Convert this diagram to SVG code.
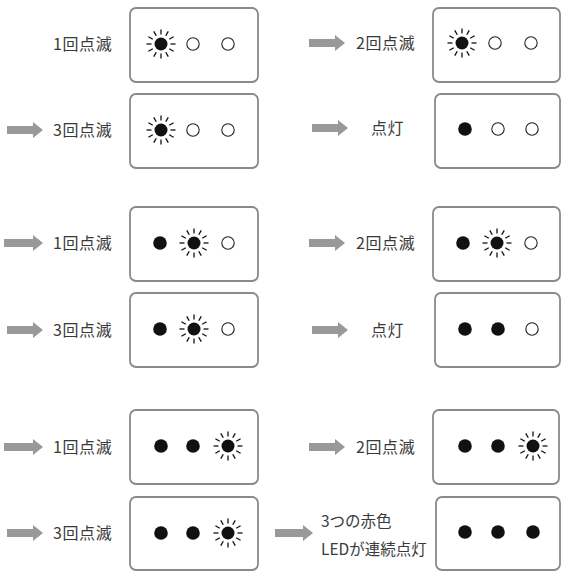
<svg xmlns="http://www.w3.org/2000/svg" xmlns:xlink="http://www.w3.org/1999/xlink" width="562" height="571" viewBox="0 0 562 571">
  <style>
    .box { fill: #fff; stroke: #8a8a8a; stroke-width: 1.8; }
    .lbl { font-family: "Noto Sans CJK JP", "Liberation Sans", sans-serif; font-size: 16px; fill: #3a3a3a; letter-spacing: 0.6px; }
    .lbl.tight { font-size: 15.5px; letter-spacing: 0; }
    .arrow { fill: #999; }
    .ring { fill: #fff; stroke: #222; stroke-width: 1.1; }
    .dot { fill: #111; }
    .ray { stroke: #111; stroke-width: 1.3; stroke-linecap: butt; }
  </style>
  <defs>
    <!-- blinking LED: filled dot with 12 short rays -->
    <g id="sun">
      <circle class="dot" r="6.5"/>
      <g class="ray">
        <line x1="9.5" y1="0" x2="14.5" y2="0"/>
        <line x1="-9.5" y1="0" x2="-14.5" y2="0"/>
        <line x1="0" y1="9.5" x2="0" y2="14.5"/>
        <line x1="0" y1="-9.5" x2="0" y2="-14.5"/>
        <line x1="8.2" y1="4.75" x2="12.6" y2="7.25"/>
        <line x1="-8.2" y1="4.75" x2="-12.6" y2="7.25"/>
        <line x1="8.2" y1="-4.75" x2="12.6" y2="-7.25"/>
        <line x1="-8.2" y1="-4.75" x2="-12.6" y2="-7.25"/>
        <line x1="4.75" y1="8.2" x2="7.25" y2="12.6"/>
        <line x1="-4.75" y1="8.2" x2="-7.25" y2="12.6"/>
        <line x1="4.75" y1="-8.2" x2="7.25" y2="-12.6"/>
        <line x1="-4.75" y1="-8.2" x2="-7.25" y2="-12.6"/>
      </g>
    </g>
    <!-- steady-on LED -->
    <circle id="on" class="dot" r="6.8"/>
    <!-- off LED -->
    <circle id="off" class="ring" r="6.2"/>
  </defs>

  <rect width="562" height="571" fill="#fff"/>

  <!-- arrows -->
  <g id="connectors" class="arrow">
    <path d="M309 39 H335 V35 L345 43 L335 51 V47 H309 Z"/>
    <path d="M7 126 H33 V122 L43 130 L33 138 V134 H7 Z"/>
    <path d="M312 124 H338 V120 L348 128 L338 136 V132 H312 Z"/>
    <path d="M4 239 H33 V235 L43 243 L33 251 V247 H4 Z"/>
    <path d="M309 239 H335 V235 L345 243 L335 251 V247 H309 Z"/>
    <path d="M7 326 H33 V322 L43 330 L33 338 V334 H7 Z"/>
    <path d="M312 326 H338 V322 L348 330 L338 338 V334 H312 Z"/>
    <path d="M4 443 H33 V439 L43 447 L33 455 V451 H4 Z"/>
    <path d="M309 443 H335 V439 L345 447 L335 455 V451 H309 Z"/>
    <path d="M7 529 H33 V525 L43 533 L33 541 V537 H7 Z"/>
    <path d="M275 529 H303 V525 L313 533 L303 541 V537 H275 Z"/>
  </g>

  <!-- row 1 -->
  <g id="r1-left">
    <text class="lbl" x="53" y="50">1回点滅</text>
    <rect class="box" x="130" y="8" width="128" height="74" rx="6"/>
    <use xlink:href="#sun" x="161" y="44"/>
    <use xlink:href="#off" x="193" y="44"/>
    <use xlink:href="#off" x="228" y="44"/>
  </g>
  <g id="r1-right">
    <text class="lbl" x="356" y="49">2回点滅</text>
    <rect class="box" x="433" y="8" width="127" height="74" rx="6"/>
    <use xlink:href="#sun" x="462" y="43"/>
    <use xlink:href="#off" x="495" y="43"/>
    <use xlink:href="#off" x="531" y="43"/>
  </g>

  <!-- row 2 -->
  <g id="r2-left">
    <text class="lbl" x="53" y="136">3回点滅</text>
    <rect class="box" x="130" y="94" width="128" height="74" rx="6"/>
    <use xlink:href="#sun" x="161" y="130"/>
    <use xlink:href="#off" x="193" y="130"/>
    <use xlink:href="#off" x="228" y="130"/>
  </g>
  <g id="r2-right">
    <text class="lbl" x="371" y="134">点灯</text>
    <rect class="box" x="435" y="94" width="125" height="74" rx="6"/>
    <use xlink:href="#on" x="465" y="129"/>
    <use xlink:href="#off" x="498" y="129"/>
    <use xlink:href="#off" x="532" y="129"/>
  </g>

  <!-- row 3 -->
  <g id="r3-left">
    <text class="lbl" x="53" y="249">1回点滅</text>
    <rect class="box" x="130" y="207" width="128" height="74" rx="6"/>
    <use xlink:href="#on" x="160" y="243"/>
    <use xlink:href="#sun" x="194" y="243"/>
    <use xlink:href="#off" x="228" y="243"/>
  </g>
  <g id="r3-right">
    <text class="lbl" x="356" y="249">2回点滅</text>
    <rect class="box" x="433" y="207" width="127" height="74" rx="6"/>
    <use xlink:href="#on" x="463" y="243"/>
    <use xlink:href="#sun" x="497" y="243"/>
    <use xlink:href="#off" x="531" y="243"/>
  </g>

  <!-- row 4 -->
  <g id="r4-left">
    <text class="lbl" x="53" y="336">3回点滅</text>
    <rect class="box" x="130" y="293" width="128" height="74" rx="6"/>
    <use xlink:href="#on" x="160" y="329"/>
    <use xlink:href="#sun" x="194" y="329"/>
    <use xlink:href="#off" x="228" y="329"/>
  </g>
  <g id="r4-right">
    <text class="lbl" x="371" y="336">点灯</text>
    <rect class="box" x="435" y="293" width="125" height="74" rx="6"/>
    <use xlink:href="#on" x="465" y="329"/>
    <use xlink:href="#on" x="498" y="329"/>
    <use xlink:href="#off" x="532" y="329"/>
  </g>

  <!-- row 5 -->
  <g id="r5-left">
    <text class="lbl" x="53" y="453">1回点滅</text>
    <rect class="box" x="130" y="410" width="128" height="74" rx="6"/>
    <use xlink:href="#on" x="161" y="446"/>
    <use xlink:href="#on" x="193" y="446"/>
    <use xlink:href="#sun" x="228" y="446"/>
  </g>
  <g id="r5-right">
    <text class="lbl" x="356" y="453">2回点滅</text>
    <rect class="box" x="433" y="410" width="126" height="74" rx="6"/>
    <use xlink:href="#on" x="465" y="446"/>
    <use xlink:href="#on" x="498" y="446"/>
    <use xlink:href="#sun" x="533" y="446"/>
  </g>

  <!-- row 6 -->
  <g id="r6-left">
    <text class="lbl" x="53" y="539">3回点滅</text>
    <rect class="box" x="130" y="497" width="128" height="73" rx="6"/>
    <use xlink:href="#on" x="161" y="533"/>
    <use xlink:href="#on" x="193" y="533"/>
    <use xlink:href="#sun" x="228" y="533"/>
  </g>
  <g id="r6-right">
    <text class="lbl tight" x="321" y="527">3つの赤色</text>
    <text class="lbl tight" x="321" y="555">LEDが連続点灯</text>
    <rect class="box" x="436" y="497" width="124" height="73" rx="6"/>
    <use xlink:href="#on" x="465" y="532"/>
    <use xlink:href="#on" x="498" y="532"/>
    <use xlink:href="#on" x="533" y="532"/>
  </g>
</svg>
